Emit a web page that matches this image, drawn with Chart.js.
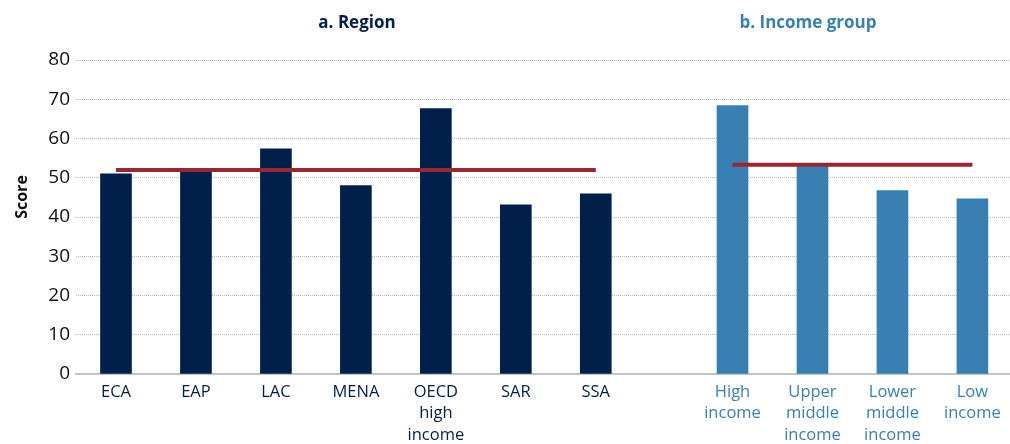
<!DOCTYPE html>
<html>
<head>
<meta charset="utf-8">
<script src="https://cdn.jsdelivr.net/npm/chart.js@4.4.1/dist/chart.umd.min.js"></script>
<style>
html,body{margin:0;padding:0;background:#fff;}
#wrap{width:1010px;height:444px;position:relative;}
</style>
</head>
<body>
<div id="wrap"><canvas id="c" width="1010" height="444"></canvas></div>
<script>
// ---- data ----
const regionLabels = ['ECA', 'EAP', 'LAC', 'MENA', ['OECD', 'high', 'income'], 'SAR', 'SSA'];
const regionScores = [51.0, 51.4, 57.4, 48.0, 67.6, 43.1, 45.9];
const regionAverage = 52.0;
const incomeLabels = [['High', 'income'], ['Upper', 'middle', 'income'], ['Lower', 'middle', 'income'], ['Low', 'income']];
const incomeScores = [68.4, 53.1, 46.7, 44.6];
const incomeAverage = 53.3;
const yTicks = [0, 10, 20, 30, 40, 50, 60, 70, 80];
const panelTitles = ['a. Region', 'b. Income group'];

// ---- layout helpers ----
const GAP = 0.71; // extra space between the two panels, in category units
const regionPos = regionLabels.map((_, i) => i);
const incomePos = incomeLabels.map((_, j) => regionLabels.length + GAP + j);
const allPos = regionPos.concat(incomePos);
const allLabels = regionLabels.concat(incomeLabels);

const NAVY = '#00204a';
const BLUE = '#3880b3';
const RED = '#9b2530';
const FONT = "'Open Sans', 'Noto Sans', sans-serif";

const textPlugin = {
  id: 'texts',
  afterDraw(chart) {
    const ctx = chart.ctx;
    ctx.save();
    ctx.textAlign = 'center';
    ctx.textBaseline = 'middle';
    ctx.font = "bold 17px " + FONT;
    ctx.fillStyle = NAVY;
    ctx.fillText(panelTitles[0], 357, 23);
    ctx.fillStyle = BLUE;
    ctx.fillText(panelTitles[1], 808, 23);
    ctx.translate(22, 197);
    ctx.rotate(-Math.PI / 2);
    ctx.fillStyle = '#111';
    ctx.font = "bold 16px " + FONT;
    ctx.fillText('Score', 0, 0);
    ctx.restore();
  }
};

new Chart(document.getElementById('c'), {
  data: {
    datasets: [
      {
        type: 'line', order: 0,
        data: [{x: regionPos[0], y: regionAverage}, {x: regionPos[regionPos.length - 1], y: regionAverage}],
        borderColor: RED, borderWidth: 4, pointRadius: 0, borderCapStyle: 'butt'
      },
      {
        type: 'line', order: 0,
        data: [{x: incomePos[0], y: incomeAverage}, {x: incomePos[incomePos.length - 1], y: incomeAverage}],
        borderColor: RED, borderWidth: 4, pointRadius: 0, borderCapStyle: 'butt'
      },
      {
        type: 'bar', order: 1, grouped: false,
        data: regionScores.map((v, i) => ({x: regionPos[i], y: v})),
        backgroundColor: NAVY, barThickness: 31
      },
      {
        type: 'bar', order: 1, grouped: false,
        data: incomeScores.map((v, j) => ({x: incomePos[j], y: v})),
        backgroundColor: BLUE, barThickness: 31
      }
    ]
  },
  options: {
    responsive: false,
    animation: false,
    layout: {padding: {top: 60, right: 0, left: 0, bottom: 0}},
    plugins: {legend: {display: false}, tooltip: {enabled: false}},
    scales: {
      x: {
        type: 'linear',
        offset: false,
        min: -0.5,
        max: allPos[allPos.length - 1] + 0.47,
        grid: {display: false, drawTicks: false, offset: false},
        border: {display: true, color: '#c4c4c4', width: 2},
        afterBuildTicks(scale) { scale.ticks = allPos.map(v => ({value: v})); },
        afterFit(scale) { scale.height = 70; },
        ticks: {
          autoSkip: false, maxRotation: 0, minRotation: 0, padding: 7,
          font: {family: FONT, size: 16.5, lineHeight: 1.32},
          color: (c) => (c.index < regionLabels.length ? NAVY : BLUE),
          callback: (value, index) => allLabels[index]
        }
      },
      y: {
        min: 0, max: 80,
        afterBuildTicks(scale) { scale.ticks = yTicks.map(v => ({value: v})); },
        afterFit(scale) { scale.width = 76; },
        grid: {color: '#b5b5b5', lineWidth: 1, drawTicks: false},
        border: {display: false, dash: [1, 1]},
        ticks: {padding: 6, color: '#111', font: {family: FONT, size: 19}}
      }
    }
  },
  plugins: [textPlugin]
});
</script>
</body>
</html>
